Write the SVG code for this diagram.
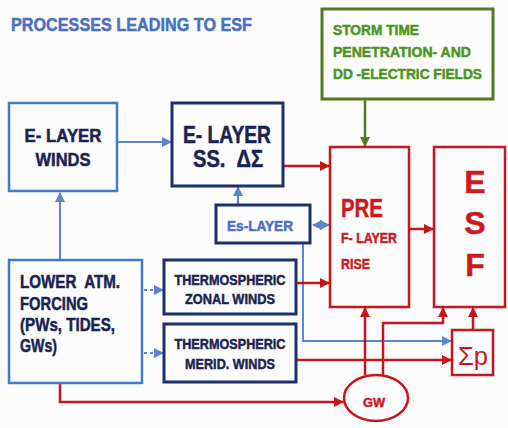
<svg xmlns="http://www.w3.org/2000/svg" width="508" height="428" viewBox="0 0 508 428">
<defs>
<style>
.t{font-family:"Liberation Sans",Arial,sans-serif;font-weight:bold;stroke-width:0.5}
.navy{fill:#1b2352;stroke:#1b2352}
.red{fill:#cc1a1f;stroke:#cc1a1f}
.blue{fill:#4a70c0;stroke:#4a70c0}
.green{fill:#4c9620;stroke:#4c9620}
.bb{fill:none;stroke:#3f7cc8;stroke-width:2.5}
.nb{fill:none;stroke:#1d2f6c;stroke-width:3}
.rb{fill:none;stroke:#c8161c;stroke-width:2.5}
.gb{fill:none;stroke:#557a22;stroke-width:3}
.cb{fill:none;stroke:#5a86cc;stroke-width:2}
.cr{fill:none;stroke:#c8161c;stroke-width:2.5}
.cg{fill:none;stroke:#557a22;stroke-width:2.5}
</style>
<marker id="ab" markerUnits="userSpaceOnUse" markerWidth="10" markerHeight="10" refX="9" refY="5" orient="auto-start-reverse"><path d="M0,0 L10,5 L0,10 z" fill="#5a86cc"/></marker>
<marker id="ar" markerUnits="userSpaceOnUse" markerWidth="10" markerHeight="10" refX="9" refY="5" orient="auto"><path d="M0,0 L10,5 L0,10 z" fill="#c8161c"/></marker>
<marker id="ag" markerUnits="userSpaceOnUse" markerWidth="10" markerHeight="10" refX="9" refY="5" orient="auto"><path d="M0,0 L10,5 L0,10 z" fill="#557a22"/></marker>
</defs>
<rect width="508" height="428" fill="#fcfcfd"/>
<text class="t blue" x="11" y="31" font-size="19" textLength="241" lengthAdjust="spacingAndGlyphs">PROCESSES LEADING TO ESF</text>

<g id="connectors">
<path class="cb" d="M117,142 H171" marker-end="url(#ab)"/>
<path class="cb" d="M60,260 V193" marker-end="url(#ab)"/>
<path class="cb" d="M238,205 V187" marker-end="url(#ab)"/>
<path class="cb" d="M313,225 H329" marker-start="url(#ab)" marker-end="url(#ab)"/>
<path class="cb" d="M303,244 V341 H451" marker-end="url(#ab)"/>
<path class="cb" d="M144,290 H163" stroke-dasharray="3,3" marker-end="url(#ab)"/>
<path class="cb" d="M144,353 H163" stroke-dasharray="3,3" marker-end="url(#ab)"/>
<path class="cg" d="M365,99 V146" marker-end="url(#ag)"/>
<path class="cr" d="M283,166 H329" marker-end="url(#ar)"/>
<path class="cr" d="M296,283 H329" marker-end="url(#ar)"/>
<path class="cr" d="M409,229 H433" marker-end="url(#ar)"/>
<path class="cr" d="M296,360 H451" marker-end="url(#ar)"/>
<path class="cr" d="M60,383 V402 H343" marker-end="url(#ar)"/>
<path class="cr" d="M365,375 V308" marker-end="url(#ar)"/>
<path class="cr" d="M383,376 V323 H443 V308" marker-end="url(#ar)"/>
<path class="cr" d="M473,330 V308" marker-end="url(#ar)"/>
</g>

<g id="e-layer-winds">
<rect class="bb" x="9" y="103" width="108" height="88"/>
<text class="t navy" x="63" y="142" font-size="18" text-anchor="middle" textLength="77" lengthAdjust="spacingAndGlyphs">E- LAYER</text>
<text class="t navy" x="63" y="166" font-size="18" text-anchor="middle" textLength="55" lengthAdjust="spacingAndGlyphs">WINDS</text>
</g>

<g id="e-layer-ss">
<rect class="nb" x="172" y="103" width="111" height="83"/>
<text class="t navy" x="227" y="143" font-size="23" text-anchor="middle" textLength="88" lengthAdjust="spacingAndGlyphs">E- LAYER</text>
<text class="t navy" x="228" y="167" font-size="23" text-anchor="middle" textLength="70" lengthAdjust="spacingAndGlyphs" xml:space="preserve">SS.  ΔΣ</text>
</g>

<g id="es-layer">
<rect class="nb" x="216" y="205" width="94" height="38" stroke-width="2.5"/>
<text class="t blue" x="260" y="231" font-size="15" text-anchor="middle" textLength="66" lengthAdjust="spacingAndGlyphs">Es-LAYER</text>
</g>

<g id="storm">
<rect class="gb" x="322" y="9" width="171" height="90"/>
<text class="t green" x="333" y="35" font-size="14" textLength="86" lengthAdjust="spacingAndGlyphs">STORM TIME</text>
<text class="t green" x="333" y="57" font-size="14" textLength="138" lengthAdjust="spacingAndGlyphs">PENETRATION- AND</text>
<text class="t green" x="333" y="79" font-size="14" textLength="149" lengthAdjust="spacingAndGlyphs">DD -ELECTRIC FIELDS</text>
</g>

<g id="pre">
<rect class="rb" x="330" y="147" width="79" height="160"/>
<text class="t red" x="341" y="217" font-size="26" textLength="42" lengthAdjust="spacingAndGlyphs">PRE</text>
<text class="t red" x="341" y="243" font-size="14" textLength="56" lengthAdjust="spacingAndGlyphs">F- LAYER</text>
<text class="t red" x="341" y="269" font-size="14" textLength="29" lengthAdjust="spacingAndGlyphs">RISE</text>
</g>

<g id="esf">
<rect class="rb" x="434" y="147" width="71" height="160"/>
<text class="t red" x="475" y="193" font-size="32" text-anchor="middle">E</text>
<text class="t red" x="475" y="234" font-size="32" text-anchor="middle">S</text>
<text class="t red" x="475" y="276" font-size="32" text-anchor="middle">F</text>
</g>

<g id="lower-atm">
<rect class="bb" x="9" y="260" width="133" height="123"/>
<text class="t navy" x="20" y="288" font-size="18" textLength="100" lengthAdjust="spacingAndGlyphs" xml:space="preserve">LOWER  ATM.</text>
<text class="t navy" x="20" y="310" font-size="18" textLength="68" lengthAdjust="spacingAndGlyphs">FORCING</text>
<text class="t navy" x="20" y="331" font-size="18" textLength="95" lengthAdjust="spacingAndGlyphs">(PWs, TIDES,</text>
<text class="t navy" x="20" y="352" font-size="18" textLength="37" lengthAdjust="spacingAndGlyphs">GWs)</text>
</g>

<g id="thermo-zonal">
<rect class="nb" x="164" y="260" width="132" height="54"/>
<text class="t navy" x="230" y="285" font-size="15" text-anchor="middle" textLength="111" lengthAdjust="spacingAndGlyphs">THERMOSPHERIC</text>
<text class="t navy" x="230" y="304" font-size="15" text-anchor="middle" textLength="90" lengthAdjust="spacingAndGlyphs">ZONAL WINDS</text>
</g>

<g id="thermo-merid">
<rect class="nb" x="164" y="324" width="132" height="58"/>
<text class="t navy" x="230" y="349" font-size="15" text-anchor="middle" textLength="111" lengthAdjust="spacingAndGlyphs">THERMOSPHERIC</text>
<text class="t navy" x="230" y="369" font-size="15" text-anchor="middle" textLength="90" lengthAdjust="spacingAndGlyphs">MERID. WINDS</text>
</g>

<g id="gw">
<ellipse class="rb" cx="376" cy="398" rx="32" ry="23"/>
<text class="t red" x="374" y="407" font-size="13" text-anchor="middle" textLength="22" lengthAdjust="spacingAndGlyphs">GW</text>
</g>

<g id="sigma-p">
<rect class="rb" x="452" y="330" width="41" height="45"/>
<text x="473" y="365" font-family="'Liberation Sans',Arial,sans-serif" font-size="26" fill="#c8161c" text-anchor="middle" textLength="30" lengthAdjust="spacingAndGlyphs">Σp</text>
</g>
</svg>
